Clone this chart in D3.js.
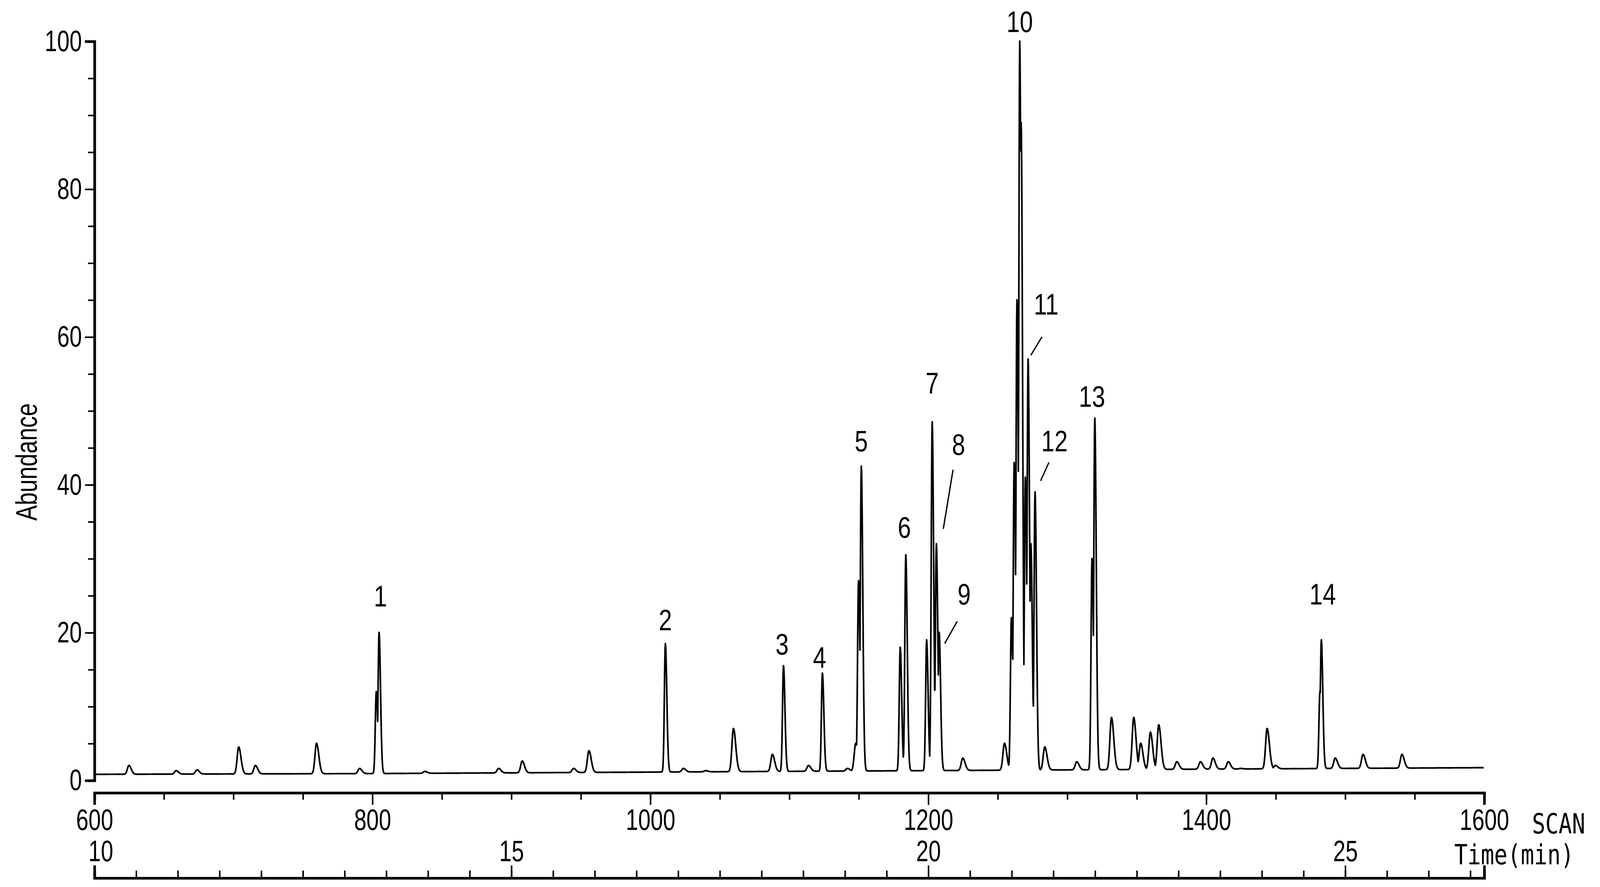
<!DOCTYPE html>
<html>
<head>
<meta charset="utf-8">
<script src="https://cdn.jsdelivr.net/npm/d3@7"></script>
<style>
  body { margin: 0; background: #fff; }
  text { fill: #000; }
</style>
</head>
<body>
<div class="graph"></div>
<script>
// Peaks: scan number and apex abundance (%)
const peakScans   = [625, 659, 674, 704, 716, 760, 791, 803, 805, 838, 891, 908, 945, 956,
                     1011, 1024, 1040, 1060, 1088, 1096, 1114, 1124, 1142, 1148, 1150, 1152,
                     1180, 1184, 1199, 1203, 1206, 1208, 1225, 1255, 1260, 1262, 1264, 1266, 1267,
                     1270, 1272, 1274, 1277, 1284, 1307, 1318, 1320, 1332, 1348, 1353, 1360,
                     1366, 1379, 1396, 1405, 1416, 1425, 1444, 1450, 1482, 1483, 1493, 1513,
                     1541, 1567];
const peakHeights = [2, 1.3, 1.4, 4.5, 2, 5, 1.6, 12, 20, 1.2, 1.6, 2.6, 1.6, 4,
                     18.5, 1.6, 1.3, 7, 3.5, 15.5, 2, 14.5, 1.6, 5, 27, 42.5,
                     18, 30.5, 19, 48.5, 32, 20, 3, 5, 22, 43, 65, 100, 89,
                     41, 57, 32, 39, 4.5, 2.5, 30, 49, 8.5, 8.5, 5, 6.5,
                     7.5, 2.5, 2.5, 3, 2.5, 1.6, 7, 2, 12, 19, 3, 3.5,
                     3.5, 1.6];
// baseline level at a few scans
const baseScans  = [600, 800, 1000, 1200, 1400, 1600];
const baseLevels = [0.8, 0.9, 1.1, 1.3, 1.5, 1.7];

// Numbered peak labels and leader lines
const labelNames  = ["1", "2", "3", "4", "5", "6", "7", "8", "9", "10", "11", "12", "13", "14"];
const labelScans  = [806, 1011, 1095, 1122, 1152, 1183, 1203, 1222, 1226, 1266, 1285, 1291, 1318, 1484];
const labelValues = [23.5, 20.3, 17, 15.2, 44.5, 32.8, 52.3, 44, 23.8, 101.2, 63, 44.5, 50.5, 23.8];
const leaders = { "8": [[1218, 42], [1211, 34]], "9": [[1221, 21.5], [1212, 18.5]],
                  "11": [[1282, 60], [1274, 57.5]], "12": [[1287, 43], [1281, 40.5]] };

const scanTicks = [600, 800, 1000, 1200, 1400, 1600];
const timeTicks = [10, 15, 20, 25];
const yTicks = [0, 20, 40, 60, 80, 100];

const dims = { width: 1568, height: 864, left: 92, right: 1450, top: 40, bottom: 760 };

const svg = d3.select(".graph").append("svg")
    .attr("width", 4108).attr("height", 2270)
    .attr("viewBox", `0 0 ${dims.width} ${dims.height}`)
    .attr("preserveAspectRatio", "none");

const xScale = d3.scaleLinear().domain([600, 1600]).range([dims.left, dims.right]);
const yScale = d3.scaleLinear().domain([0, 100]).range([dims.bottom, dims.top]);
const tScale = d3.scaleLinear().domain([10, 10 + 1000 / 60]).range([dims.left, dims.right]);
const baseAt = d3.scaleLinear().domain(baseScans).range(baseLevels);

// build the trace from the peak list
const trace = [];
for (let s = 600; s <= 1600; s += 0.2) {
    const b = baseAt(s);
    let v = b;
    peakScans.forEach((p, i) => {
        const w = peakHeights[i] > 10 ? 0.7 : 1.1;
        const dx = s - p;
        const ww = dx < 0 ? w : w * 1.5;
        v = Math.max(v, b + (peakHeights[i] - b) * Math.exp(-dx * dx / (2 * ww * ww)));
    });
    trace.push([s, v]);
}

const line = d3.line().x(d => xScale(d[0])).y(d => yScale(d[1]));
svg.append("path").attr("d", line(trace))
    .attr("fill", "none").attr("stroke", "#000").attr("stroke-width", 1.6)
    .attr("stroke-linejoin", "round");

const font = "'Liberation Sans', Arial, sans-serif";
// squeeze text horizontally, like the narrow print font
function narrow(sel, k) {
    sel.each(function () {
        const t = d3.select(this);
        const x = +t.attr("x") || 0, y = +t.attr("y") || 0;
        t.attr("transform", `translate(${x},${y}) scale(${k},1)`).attr("x", 0).attr("y", 0);
    });
}

// y axis
const yAxis = svg.append("g").attr("transform", `translate(${dims.left},0)`)
    .call(d3.axisLeft(yScale).tickValues(yTicks).tickSize(9).tickPadding(4));
svg.append("g").attr("transform", `translate(${dims.left},0)`)
    .call(d3.axisLeft(yScale).tickValues(d3.range(0, 101, 5)).tickSize(6).tickFormat(""));
yAxis.selectAll("text").attr("font-family", font).attr("font-size", 29).attr("x", -12);
narrow(yAxis.selectAll("text"), 0.75);

svg.append("text").text("Abundance")
    .attr("transform", `translate(36,${(dims.top + dims.bottom) / 2 + 50}) rotate(-90) scale(0.78,1)`)
    .attr("text-anchor", "middle").attr("font-family", font).attr("font-size", 29);

// scan axis
const axisY = 772;
const scanAxis = svg.append("g").attr("transform", `translate(0,${axisY})`)
    .call(d3.axisBottom(xScale).tickValues(scanTicks).tickFormat(d3.format("d")).tickSize(12).tickPadding(4));
svg.append("g").attr("transform", `translate(0,${axisY})`)
    .call(d3.axisBottom(xScale).tickValues(d3.range(600, 1601, 50)).tickSize(7).tickFormat(""));
scanAxis.selectAll("text").attr("font-family", font).attr("font-size", 29);
narrow(scanAxis.selectAll("text"), 0.75);
svg.append("text").text("SCAN")
    .attr("transform", "translate(1497,812) scale(0.8,1)")
    .attr("font-family", "'DejaVu Sans Mono', monospace").attr("font-size", 27);

// time axis
const timeY = 855;
const timeAxis = svg.append("g").attr("transform", `translate(0,${timeY})`)
    .call(d3.axisTop(tScale).tickValues(timeTicks).tickSize(12).tickPadding(4));
svg.append("g").attr("transform", `translate(0,${timeY})`)
    .call(d3.axisTop(tScale).tickValues(d3.range(10, 26.6, 0.5)).tickSize(7).tickFormat(""));
timeAxis.selectAll("text").attr("font-family", font).attr("font-size", 29);
timeAxis.selectAll(".tick text").filter(d => d === 10).attr("text-anchor", "start").attr("x", -6);
narrow(timeAxis.selectAll("text"), 0.75);
svg.append("text").text("Time(min)")
    .attr("transform", "translate(1421,842) scale(0.8,1)")
    .attr("font-family", "'DejaVu Sans Mono', monospace").attr("font-size", 27);

svg.selectAll(".domain").attr("stroke-width", 2.5);
svg.selectAll(".tick line").attr("stroke-width", 1.5);

// peak labels
labelNames.forEach((n, i) => {
    svg.append("text").text(n)
        .attr("transform", `translate(${xScale(labelScans[i])},${yScale(labelValues[i])}) scale(0.8,1)`)
        .attr("text-anchor", "middle").attr("font-family", font).attr("font-size", 29);
    if (leaders[n]) {
        svg.append("line")
            .attr("x1", xScale(leaders[n][0][0])).attr("y1", yScale(leaders[n][0][1]))
            .attr("x2", xScale(leaders[n][1][0])).attr("y2", yScale(leaders[n][1][1]))
            .attr("stroke", "#000").attr("stroke-width", 1.3);
    }
});
</script>
</body>
</html>
